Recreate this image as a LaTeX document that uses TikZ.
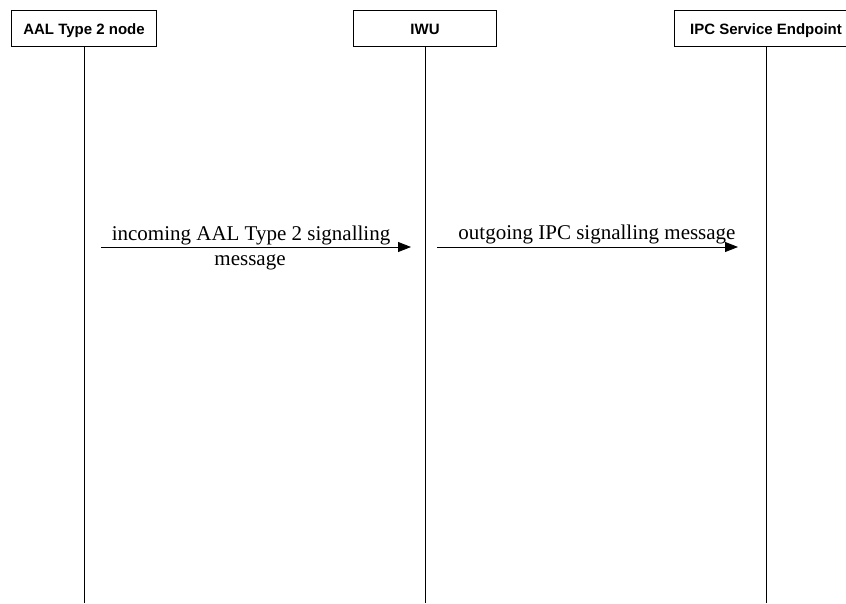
\documentclass[tikz,border=0pt]{standalone}
\usepackage{fontspec}
\setmainfont{Liberation Serif}
\setsansfont{Liberation Sans}
\usetikzlibrary{arrows.meta}

\begin{document}
\begin{tikzpicture}[x=1pt,y=-1pt,line width=0.8pt,>={Triangle[length=13pt,width=10pt]}]
		\tikzstyle{entity}=[draw=black,fill=white,minimum height=36pt,inner sep=0pt,text height=13.7pt,text depth=0pt,font=\fontsize{15}{18}\selectfont\sffamily\bfseries]
		\tikzstyle{msg}=[font=\fontsize{21}{25}\selectfont,align=center,inner sep=2pt]
		
		\clip (0,0) rectangle (846,603);
		
		\node[entity,minimum width=145pt] (aal) at (84,28) {AAL Type 2 node};
		\node[entity,minimum width=143pt] (iwu) at (425,28) {IWU};
		\node[entity,minimum width=184pt] (ipc) at (766,28) {IPC Service Endpoint};
		
		\coordinate (aalend) at (84,603);
		\coordinate (iwuend) at (425,603);
		\coordinate (ipcend) at (766,603);
		
		\draw (aal.south) -- (aalend);
		\draw (iwu.south) -- (iwuend);
		\draw (ipc.south) -- (ipcend);
		
		\coordinate (m1a) at (101,247);
		\coordinate (m1b) at (411,247);
		\coordinate (m2a) at (437,247);
		\coordinate (m2b) at (738,247);
		
		\draw[->] (m1a) -- (m1b);
		\draw[->] (m2a) -- (m2b);
		\node[msg,anchor=base] (m1top) at (251,240) {incoming AAL Type 2 signalling};
		\node[msg,anchor=base] (m1bot) at (250,265) {message};
		\node[msg,anchor=base] (m2) at (597,239) {outgoing IPC signalling message};
	\end{tikzpicture}
\end{document}
